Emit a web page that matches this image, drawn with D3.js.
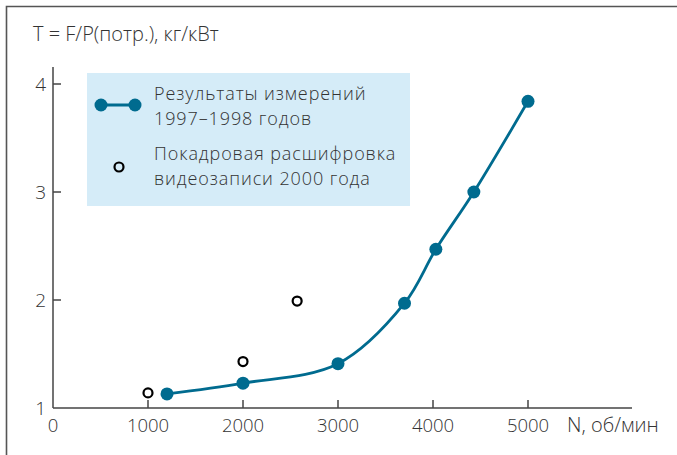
<!DOCTYPE html>
<html><head><meta charset="utf-8">
<script src="https://cdn.jsdelivr.net/npm/d3@7"></script>
<style>
body{margin:0;background:#fff;}
text{font-family:"Open Sans","Noto Sans",sans-serif;fill:#333;font-weight:300;}
</style></head>
<body><svg id="c" width="677" height="455"></svg>
<script>
const measuredN = [1200, 2000, 3000, 3700, 4030, 4430, 5000];
const measuredT = [1.13, 1.23, 1.41, 1.97, 2.47, 3.0, 3.84];
const videoN = [1000, 2000, 2570];
const videoT = [1.14, 1.43, 1.99];
const xTicks = [0, 1000, 2000, 3000, 4000, 5000];
const yTicks = [1, 2, 3, 4];
const yTitle = "T = F/P(потр.), кг/кВт";
const xTitle = "N, об/мин";
const legend1 = ["Результаты измерений", "1997–1998 годов"];
const legend2 = ["Покадровая расшифровка", "видеозаписи 2000 года"];

const svg = d3.select("#c");
const blue = "#006b8f", axisC = "#444";
const x = d3.scaleLinear().domain([0, 5000]).range([53, 528]);
const y = d3.scaleLinear().domain([1, 4]).range([408, 84]);

// frame
svg.append("path").attr("d", "M6.5,455 V6.5 H677").attr("fill", "none").attr("stroke", "#555").attr("stroke-width", 1.6);

// legend box
svg.append("rect").attr("x", 87).attr("y", 73).attr("width", 323).attr("height", 133).attr("fill", "#d5ecf8");

// axes
svg.append("line").attr("x1", x(0)).attr("x2", 632).attr("y1", y(1)).attr("y2", y(1)).attr("stroke", axisC).attr("stroke-width", 1.5);
svg.append("line").attr("x1", x(0)).attr("x2", x(0)).attr("y1", y(1)).attr("y2", 67).attr("stroke", axisC).attr("stroke-width", 1.5);
xTicks.filter(d => d > 0).forEach(d => {
  svg.append("line").attr("x1", x(d)).attr("x2", x(d)).attr("y1", y(1)).attr("y2", y(1) - 8).attr("stroke", axisC).attr("stroke-width", 1.5);
});
yTicks.filter(d => d > 1).forEach(d => {
  svg.append("line").attr("x1", x(0)).attr("x2", x(0) + 8).attr("y1", y(d)).attr("y2", y(d)).attr("stroke", axisC).attr("stroke-width", 1.5);
});
svg.selectAll(".xl").data(xTicks).enter().append("text")
  .attr("x", d => x(d)).attr("y", 432).attr("text-anchor", "middle").attr("font-size", 18.5).text(d => d);
svg.selectAll(".yl").data(yTicks).enter().append("text")
  .attr("x", 46).attr("y", d => y(d) + 7).attr("text-anchor", "end").attr("font-size", 19).text(d => d);
svg.append("text").attr("x", 567).attr("y", 432).attr("font-size", 20).text(xTitle);
svg.append("text").attr("x", 33).attr("y", 41).attr("font-size", 20).text(yTitle);

// curve
const pts = measuredN.map((n, i) => [x(n), y(measuredT[i])]);
svg.append("path").attr("d", d3.line().curve(d3.curveCatmullRom.alpha(0.5))(pts))
  .attr("fill", "none").attr("stroke", blue).attr("stroke-width", 2.8);
svg.selectAll(".m").data(pts).enter().append("circle")
  .attr("cx", d => d[0]).attr("cy", d => d[1]).attr("r", 6.5).attr("fill", blue);
svg.selectAll(".v").data(videoN).enter().append("circle")
  .attr("cx", d => x(d)).attr("cy", (d, i) => y(videoT[i])).attr("r", 4.5)
  .attr("fill", "none").attr("stroke", "#000").attr("stroke-width", 2.2);

// legend
svg.append("line").attr("x1", 101).attr("x2", 135).attr("y1", 105).attr("y2", 105).attr("stroke", blue).attr("stroke-width", 2.8);
[101, 135].forEach(cx => svg.append("circle").attr("cx", cx).attr("cy", 105).attr("r", 6.5).attr("fill", blue));
svg.append("circle").attr("cx", 119).attr("cy", 167).attr("r", 4.5).attr("fill", "none").attr("stroke", "#000").attr("stroke-width", 2.2);
legend1.forEach((t, i) => svg.append("text").attr("x", 154).attr("y", 100 + i * 25).attr("font-size", 18).attr("letter-spacing", 0.9).text(t));
legend2.forEach((t, i) => svg.append("text").attr("x", 154).attr("y", 160 + i * 25).attr("font-size", 18).attr("letter-spacing", 0.9).text(t));
</script></body></html>
